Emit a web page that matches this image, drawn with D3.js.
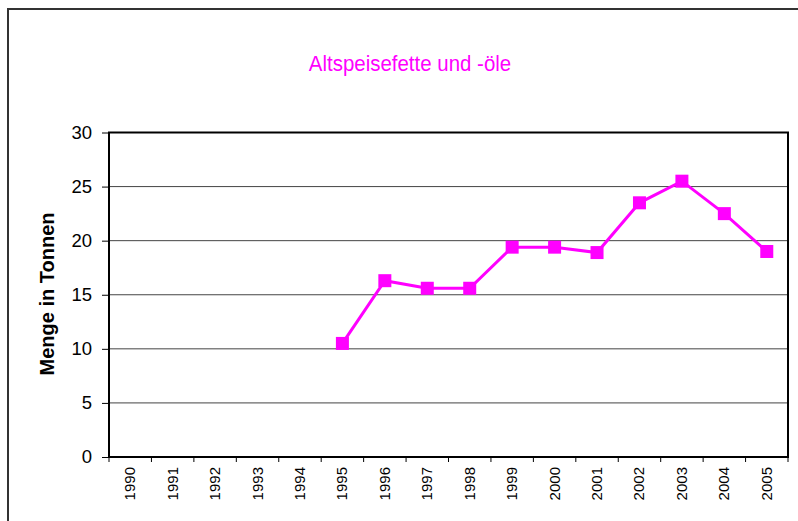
<!DOCTYPE html>
<html>
<head>
<meta charset="utf-8">
<script src="https://cdn.jsdelivr.net/npm/d3@7"></script>
<style>
  body { margin: 0; background: #fff; }
  svg { display: block; font-family: "Liberation Sans", Arial, sans-serif; }
</style>
</head>
<body>
<svg width="798" height="521"></svg>
<script>
var years = ["1990","1991","1992","1993","1994","1995","1996","1997",
             "1998","1999","2000","2001","2002","2003","2004","2005"];
var tonnen = [null, null, null, null, null, 10.5, 16.3, 15.6,
              15.6, 19.4, 19.4, 18.9, 23.5, 25.5, 22.5, 19.0];
var yTicks = [0, 5, 10, 15, 20, 25, 30];
var title = "Altspeisefette und -öle";
var yTitle = "Menge in Tonnen";

var svg = d3.select("svg"),
    pink = "#ff00ff";

// plot area (note: "top" is reserved on window, so prefixed names)
var pLeft = 109, pRight = 788, pTop = 132.5, pBottom = 457;

var x = d3.scaleBand().domain(years).range([pLeft, pRight]);
var y = d3.scaleLinear().domain([0, 30]).range([pBottom, pTop]);

// outer frame (only top and left edges visible)
svg.append("path")
    .attr("d", "M8,521V9H798")
    .attr("fill", "none")
    .attr("stroke", "#333")
    .attr("stroke-width", 2);

// title
svg.append("text")
    .attr("transform", "translate(410,71) scale(0.93,1)")
    .attr("text-anchor", "middle")
    .attr("font-size", 22)
    .attr("fill", pink)
    .text(title);

// gridlines
svg.append("g")
    .selectAll("line")
    .data(yTicks.slice(1, -1))
    .enter().append("line")
    .attr("x1", pLeft).attr("x2", pRight)
    .attr("y1", function(d) { return y(d); })
    .attr("y2", function(d) { return y(d); })
    .attr("stroke", "#444")
    .attr("stroke-width", 1);

// y axis
var yAxis = svg.append("g")
    .attr("transform", "translate(" + pLeft + ",0)")
    .call(d3.axisLeft(y).tickValues(yTicks).tickSize(7).tickPadding(10));
yAxis.select(".domain").remove();
yAxis.selectAll(".tick line").attr("stroke", "#000");
yAxis.selectAll(".tick text")
    .attr("font-size", 18.5)
    .attr("font-family", "Liberation Sans, Arial, sans-serif")
    .attr("fill", "#000");

// x axis, ticks between categories
var bounds = years.map(function(d) { return x(d); }).concat([pRight]);
svg.append("g")
    .selectAll("line")
    .data(bounds)
    .enter().append("line")
    .attr("x1", function(d) { return d; })
    .attr("x2", function(d) { return d; })
    .attr("y1", pBottom).attr("y2", pBottom + 5)
    .attr("stroke", "#000");

svg.append("g")
    .selectAll("text")
    .data(years)
    .enter().append("text")
    .attr("transform", function(d) {
      return "translate(" + (x(d) + x.bandwidth() / 2 + 5) + "," + (pBottom + 10) + ") rotate(-90)";
    })
    .attr("text-anchor", "end")
    .attr("font-size", 15)
    .text(function(d) { return d; });

// y title
svg.append("text")
    .attr("transform", "translate(54,294) rotate(-90)")
    .attr("text-anchor", "middle")
    .attr("font-size", 20)
    .attr("font-weight", "bold")
    .text(yTitle);

// plot frame
svg.append("rect")
    .attr("x", pLeft).attr("y", pTop)
    .attr("width", pRight - pLeft).attr("height", pBottom - pTop)
    .attr("fill", "none")
    .attr("stroke", "#000")
    .attr("stroke-width", 2);

// series
var pts = years.map(function(d, i) { return { year: d, v: tonnen[i] }; })
    .filter(function(d) { return d.v != null; });

var line = d3.line()
    .x(function(d) { return x(d.year) + x.bandwidth() / 2; })
    .y(function(d) { return y(d.v); });

svg.append("path")
    .datum(pts)
    .attr("d", line)
    .attr("fill", "none")
    .attr("stroke", pink)
    .attr("stroke-width", 3);

svg.append("g")
    .selectAll("rect")
    .data(pts)
    .enter().append("rect")
    .attr("x", function(d) { return x(d.year) + x.bandwidth() / 2 - 6.5; })
    .attr("y", function(d) { return y(d.v) - 6.5; })
    .attr("width", 13).attr("height", 13)
    .attr("fill", pink);
</script>
</body>
</html>
